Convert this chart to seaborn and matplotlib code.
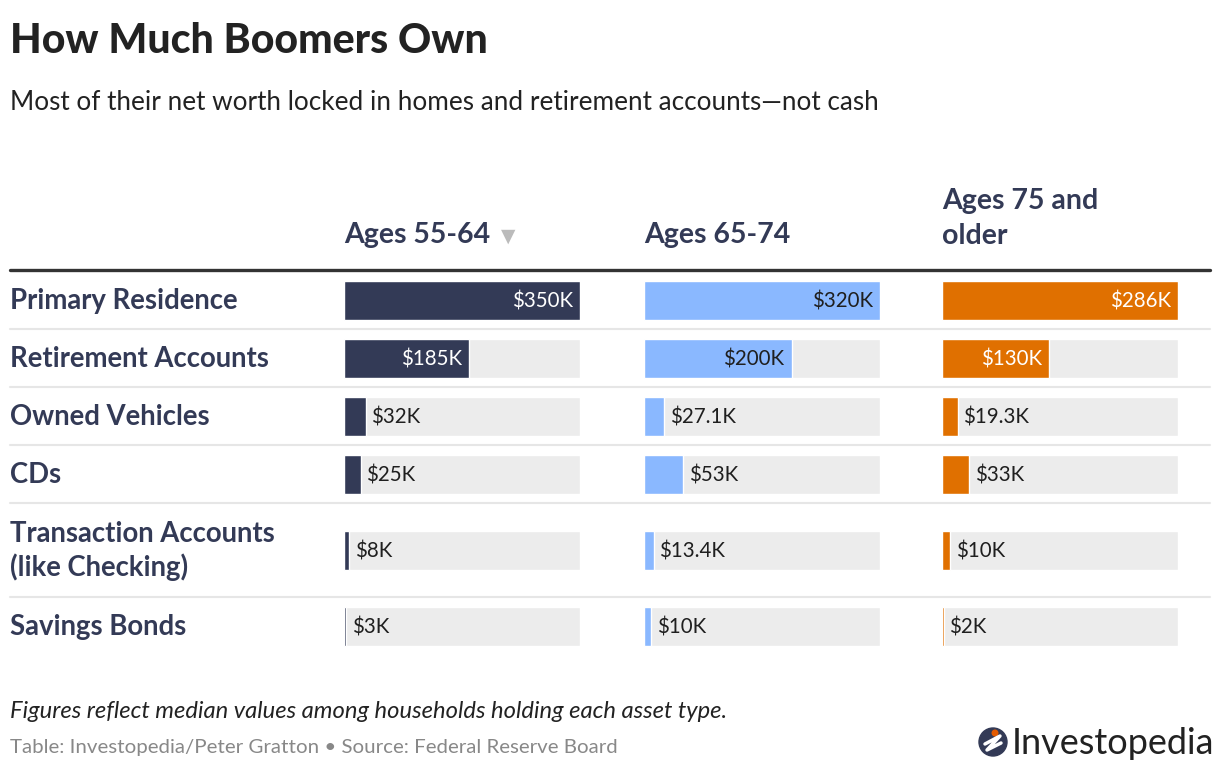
import numpy as np
import matplotlib
matplotlib.use("Agg")
import matplotlib.pyplot as plt
from matplotlib.lines import Line2D
from matplotlib.patches import Circle
import seaborn as sns

# -----------------------
# Data
# -----------------------
categories = ["Primary Residence", "Retirement Accounts", "Owned Vehicles", "CDs",
              "Transaction Accounts\n(like Checking)", "Savings Bonds"]
age_groups = ["Ages 55-64", "Ages 65-74", "Ages 75 and\nolder"]
ages_55_64 = [350, 185, 32, 25, 8, 3]        # $K
ages_65_74 = [320, 200, 27.1, 53, 13.4, 10]  # $K
ages_75_up = [286, 130, 19.3, 33, 10, 2]     # $K

title = "How Much Boomers Own"
subtitle = "Most of their net worth locked in homes and retirement accounts\u2014not cash"
note = "Figures reflect median values among households holding each asset type."
source = "Table: Investopedia/Peter Gratton \u2022 Source: Federal Reserve Board"

# -----------------------
# Style
# -----------------------
sns.set_theme(style="white")
plt.rcParams["font.family"] = ["Lato", "DejaVu Sans"]

navy = "#333a56"
col_colors = ["#333a56", "#8ab8ff", "#e07000"]
label_colors = ["white", "#1f1f1f", "white"]
track = "#ececec"
W, H = 1220, 772

fig = plt.figure(figsize=(12.2, 7.72), dpi=100)
fig.patch.set_facecolor("white")

# canvas axes in pixel units for text and rules
cv = fig.add_axes([0, 0, 1, 1])
cv.set_xlim(0, W)
cv.set_ylim(H, 0)
cv.axis("off")

cv.text(10, 41, title, fontsize=29.5, fontweight="black", color="#222222", va="center")
cv.text(10, 103, subtitle, fontsize=18.8, color="#222222", va="center")

# row layout: taller row for two-line labels
table_top = 271
row_h = [94 if "\n" in c else 58 for c in categories]
edges = np.concatenate([[table_top], table_top + np.cumsum(row_h)])
centers = (edges[:-1] + edges[1:]) / 2
table_bot = edges[-1]

cv.add_line(Line2D([10, 1210], [table_top - 1, table_top - 1], color="#333333", lw=2.4))
for e in edges[1:-1]:
    cv.add_line(Line2D([10, 1210], [e, e], color="#e6e6e6", lw=1.5))

for cat, yc in zip(categories, centers):
    cv.text(10, yc + 1, cat, fontsize=19.8, fontweight="bold", color=navy, va="center",
            linespacing=1.3)

# columns of bars
col_x = [344, 644, 942]
col_w = 236
series = [ages_55_64, ages_65_74, ages_75_up]

for i, (vals, x0) in enumerate(zip(series, col_x)):
    hdr = age_groups[i]
    if "\n" in hdr:
        cv.text(x0, 249, hdr, fontsize=20.5, fontweight="bold", color=navy,
                va="bottom", linespacing=1.42)
    else:
        cv.text(x0, 235, hdr, fontsize=20.5, fontweight="bold", color=navy, va="center")
    if i == 0:
        cv.text(501, 236, "\u25bc", fontsize=13.5, color="#bbbbbb", va="center",
                family="DejaVu Sans")

    vmax = max(vals)
    ax = fig.add_axes([x0 / W, 1 - table_bot / H, col_w / W, (table_bot - table_top) / H])
    ax.patch.set_alpha(0)
    sns.barplot(x=[vmax] * len(vals), y=centers, orient="y", native_scale=True,
                width=39 / 58, color=track, saturation=1, errorbar=None, ax=ax)
    sns.barplot(x=vals, y=centers, orient="y", native_scale=True,
                width=39 / 58, color=col_colors[i], saturation=1, errorbar=None, ax=ax)
    ax.set_xlim(0, vmax)
    ax.set_ylim(table_bot, table_top)
    ax.axis("off")

    for v, yc in zip(vals, centers):
        lbl = "${:g}K".format(v)
        if v / vmax > 0.3:
            ax.annotate(lbl, (v, yc), xytext=(-5, -1), textcoords="offset points",
                        ha="right", va="center", fontsize=14.8, color=label_colors[i])
        else:
            ax.annotate(lbl, (v, yc), xytext=(4, -1), textcoords="offset points",
                        ha="left", va="center", fontsize=14.8, color="#1f1f1f")

# footer
cv.text(10, 711, note, fontsize=17.1, style="italic", color="#222222", va="center")
cv.text(10, 748, source, fontsize=14.75, color="#888888", va="center")

# logo
cv.add_patch(Circle((993, 742), 14, color=navy))
cv.add_line(Line2D([985, 1000, 987, 1001], [744, 736, 750, 743], color="white", lw=2.5))
cv.add_patch(Circle((995, 733), 2.8, color="#e35a00"))
cv.text(1012, 744, "Investopedia", fontsize=26, color="#222222", va="center")

fig.savefig("out.png", dpi=100)
